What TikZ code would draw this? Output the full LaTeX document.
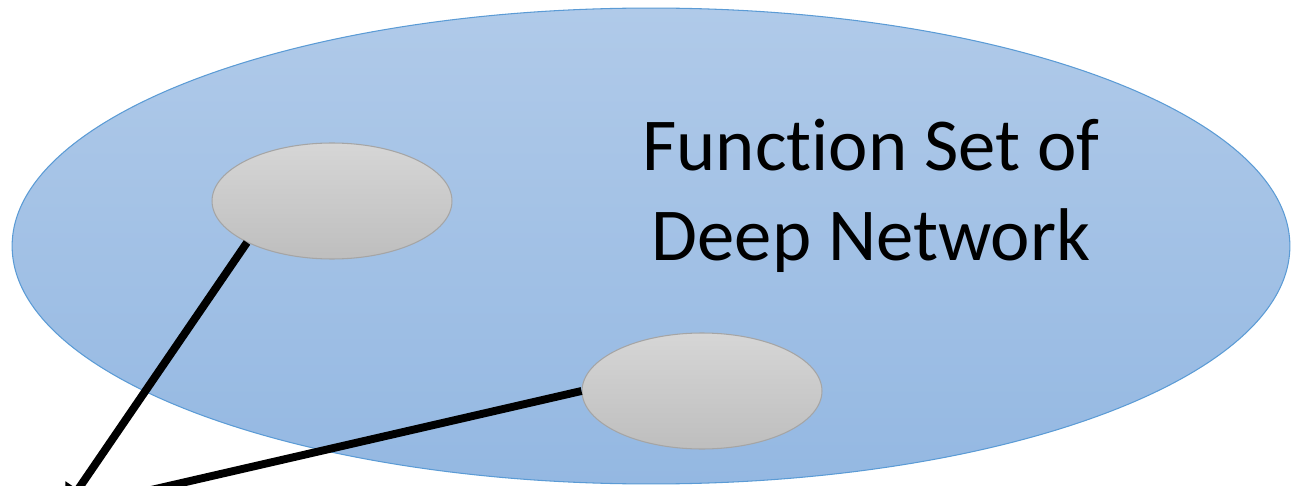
\documentclass[tikz,border=0pt]{standalone}
\usepackage{fontspec}
\setmainfont{Carlito}[Ligatures=NoCommon]
\usetikzlibrary{shapes.geometric,arrows.meta}

\definecolor{setTop}{RGB}{176,202,233}
\definecolor{setBottom}{RGB}{148,184,226}
\definecolor{setEdge}{RGB}{91,155,213}
\definecolor{funcTop}{RGB}{214,214,214}
\definecolor{funcBottom}{RGB}{190,190,190}
\definecolor{funcEdge}{RGB}{165,165,165}

\tikzset{
  netset/.style={ellipse, draw=setEdge, line width=0.6pt, top color=setTop,
    bottom color=setBottom, minimum width=25.56cm, minimum height=9.52cm, inner sep=0pt},
  funcset/.style={ellipse, draw=funcEdge, line width=0.6pt, top color=funcTop,
    bottom color=funcBottom, minimum width=4.8cm, minimum height=2.32cm, inner sep=0pt},
  pick/.style={line width=4.5pt, -{Triangle[length=14pt,width=16pt]}}
}

\begin{document}
\begin{tikzpicture}[x=0.02cm, y=-0.02cm]
  \useasboundingbox (0,0) rectangle (1291,486);
  \clip (0,0) rectangle (1291,486);
  \node[netset] (deepset) at (651,246) {};
  \node[funcset] (funcA) at (332,201) {};
  \node[funcset] (funcB) at (702,391) {};
  \node[align=center, font=\fontsize{42.5}{51}\selectfont] (setlabel) at (871,196)
    {Function Set of\\Deep Network};
  \coordinate (target) at (64,510);
  \draw[pick] (funcA.206) -- (target);
  \draw[pick] (funcB.west) -- (target);
\end{tikzpicture}
\end{document}
